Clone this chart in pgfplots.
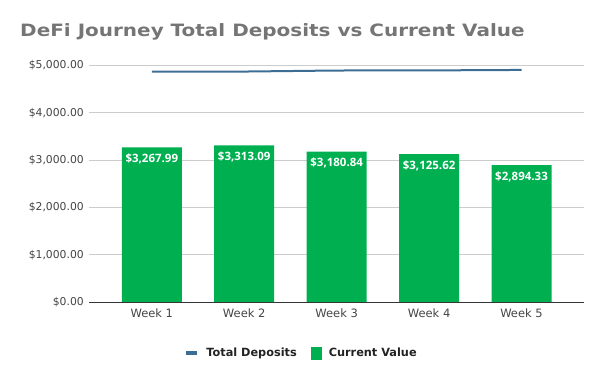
\documentclass[border=0pt]{standalone}
\usepackage{pgfplots}
\pgfplotsset{compat=1.18}
\usepackage{fontspec}
\setmainfont{DejaVu Sans}
\newfontfamily\labelfont{Open Sans}
\definecolor{titlegray}{HTML}{757575}
\definecolor{tickgray}{HTML}{444444}
\definecolor{legtext}{HTML}{222222}
\definecolor{lineblue}{HTML}{3D6D93}
\definecolor{bargreen}{HTML}{00B050}
\definecolor{gridgray}{HTML}{CCCCCC}
\begin{document}
\begin{tikzpicture}
\path[use as bounding box] (0,0) rectangle (600pt,371pt);
\node[anchor=base west, inner sep=0pt, text=titlegray] at (20pt,334pt) {\scalebox{1.175}[1]{\fontsize{17}{20}\selectfont\bfseries DeFi Journey Total Deposits vs Current Value}};
\begin{axis}[
  at={(89.3pt,68.7pt)}, anchor=south west,
  scale only axis, width=494.7pt, height=237pt,
  xmin=-0.676, xmax=4.676,
  ymin=0, ymax=5000,
  xtick={0,1,2,3,4},
  xticklabels={Week 1,Week 2,Week 3,Week 4,Week 5},
  ytick={0,1000,2000,3000,4000,5000},
  yticklabels={{\$0.00},{\$1,000.00},{\$2,000.00},{\$3,000.00},{\$4,000.00},{\$5,000.00}},
  ymajorgrids, grid style={gridgray, line width=0.8pt},
  axis line style={draw=none},
  axis x line*=bottom, axis y line*=left,
  major tick length=0pt,
  tick label style={text=tickgray},
  yticklabel style={font=\fontsize{10.8}{12}\selectfont, xshift=-2pt},
  xticklabel style={font=\fontsize{11.5}{13}\selectfont, yshift=-3pt},
  legend columns=2,
  legend style={at={(0.429,-0.214)}, anchor=center, draw=none, fill=none,
    font=\fontsize{11.3}{13}\selectfont\bfseries, text=legtext,
    /tikz/every odd column/.append style={column sep=5pt},
    /tikz/every even column/.append style={column sep=12pt}},
  clip=false,
]
\addplot[lineblue, line width=2pt, mark=none,
  legend image code/.code={\draw[lineblue, line width=4pt] (0pt,0pt) -- (11pt,0pt);}
] coordinates {
  (0,4866) (1,4868) (2,4890) (3,4892) (4,4902)
};
\addplot[ybar, bar width=60pt, fill=bargreen, draw=none, bar shift=0pt,
  point meta=explicit symbolic,
  nodes near coords,
  every node near coord/.append style={anchor=north, yshift=-3pt, text=white,
    font=\labelfont\fontsize{11.5}{13}\selectfont\bfseries},
  area legend,
  legend image code/.code={\fill[bargreen] (0pt,-6.5pt) rectangle (11pt,6.5pt);}
] coordinates {
  (0,3267.99) [\$3,267.99]
  (1,3313.09) [\$3,313.09]
  (2,3180.84) [\$3,180.84]
  (3,3125.62) [\$3,125.62]
  (4,2894.33) [\$2,894.33]
};
\draw[tickgray!80!black, line width=1pt] (axis cs:-0.676,0) -- (axis cs:4.676,0);
\legend{Total Deposits, Current Value}
\end{axis}
\end{tikzpicture}
\end{document}
